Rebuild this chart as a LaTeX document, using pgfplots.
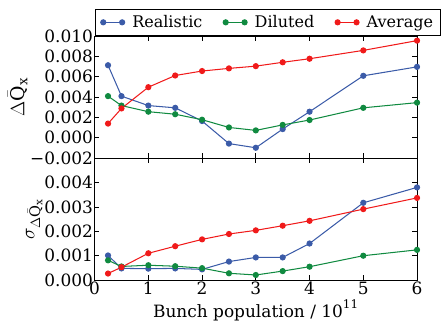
\documentclass[border=0pt]{standalone}
\usepackage{fontspec}
\setmainfont{DejaVu Serif}
\usepackage{pgfplots}
\pgfplotsset{compat=1.18}
\definecolor{cblue}{HTML}{3B5BA8}
\definecolor{cgreen}{HTML}{108A40}
\definecolor{cred}{HTML}{F01A1A}
\pgfplotstableread{
x     real     dil      avg
0.25  0.00714  0.00410  0.00140
0.5   0.00410  0.00317  0.00289
1     0.00317  0.00257  0.00498
1.5   0.00295  0.00232  0.00613
2     0.00165  0.00178  0.00657
2.5  -0.00057  0.00102  0.00683
3    -0.00098  0.00073  0.00705
3.5   0.00086  0.00127  0.00743
4     0.00257  0.00175  0.00778
5     0.00610  0.00295  0.00860
6     0.00698  0.00346  0.00956
}\topdata
\pgfplotstableread{
x     real     dil      avg
0.25  0.00101  0.00081  0.00027
0.5   0.00048  0.00056  0.00053
1     0.00047  0.00061  0.00110
1.5   0.00048  0.00057  0.00139
2     0.00044  0.00049  0.00167
2.5   0.00076  0.00028  0.00189
3     0.00093  0.00021  0.00204
3.5   0.00093  0.00037  0.00223
4     0.00150  0.00055  0.00243
5     0.00317  0.00100  0.00291
6     0.00380  0.00124  0.00337
}\botdata
\newcommand\mytf{\fontsize{18}{20}\selectfont}
\newcommand\mylf{\fontsize{17}{19}\selectfont}
\begin{document}
\begin{tikzpicture}
\pgfplotsset{
  every axis/.append style={
    scale only axis, width=341bp, height=129bp,
    xmin=0, xmax=6, xtick={0,1,...,6},
    tick align=inside, major tick length=5bp,
    tick style={black, line width=0.8pt},
    axis line style={line width=0.9pt},
    xticklabel style={inner sep=1.5bp},
    yticklabel style={inner sep=1.5bp},
    scaled y ticks=false,
  },
  dat/.style={line width=1.1pt, mark=*, mark size=2.7bp,
    mark options={draw=black!75, line width=0.5pt}},
}
\begin{axis}[name=top,
  ymin=-0.002, ymax=0.010,
  ytick={-0.002,0,0.002,0.004,0.006,0.008,0.010},
  yticklabels={\mytf −0.002,\mytf 0.000,\mytf 0.002,\mytf 0.004,\mytf 0.006,\mytf 0.008,\mytf 0.010},
  xticklabels={},
  ylabel={\fontsize{20}{22}\selectfont$\Delta\bar{\mathrm{Q}}_{\mathrm{x}}$},
  ylabel style={yshift=-2bp},
  legend columns=3,
  legend style={at={(0,1)}, anchor=south west, draw=black, line width=0.9pt,
    inner xsep=6bp, inner ysep=5bp,
    /tikz/every odd column/.append style={column sep=6bp},
    /tikz/every even column/.append style={column sep=20bp}},
  legend image code/.code={\draw[#1] plot coordinates {(0bp,0bp) (20bp,0bp)};},
]
\addplot[dat, color=cblue, mark options={fill=cblue}] table[x=x,y=real] {\topdata};
\addlegendentry{\mylf Realistic}
\addplot[dat, color=cgreen, mark options={fill=cgreen}] table[x=x,y=dil] {\topdata};
\addlegendentry{\mylf Diluted}
\addplot[dat, color=cred, mark options={fill=cred}] table[x=x,y=avg] {\topdata};
\addlegendentry{\mylf Average}
\end{axis}
\begin{axis}[at={(top.south west)}, anchor=north west,
  ymin=0, ymax=0.005,
  ytick={0,0.001,0.002,0.003,0.004},
  yticklabels={\mytf 0.000,\mytf 0.001,\mytf 0.002,\mytf 0.003,\mytf 0.004},
  xticklabels={\mytf 0,\mytf 1,\mytf 2,\mytf 3,\mytf 4,\mytf 5,\mytf 6},
  ylabel={\fontsize{22}{24}\selectfont$\sigma_{\Delta\bar{\mathrm{Q}}_{\mathrm{x}}}$},
  ylabel style={yshift=-3bp},
  xlabel={\fontsize{18}{20}\selectfont Bunch population / 10\textsuperscript{11}},
  xlabel style={yshift=0bp},
]
\addplot[dat, color=cblue, mark options={fill=cblue}] table[x=x,y=real] {\botdata};
\addplot[dat, color=cgreen, mark options={fill=cgreen}] table[x=x,y=dil] {\botdata};
\addplot[dat, color=cred, mark options={fill=cred}] table[x=x,y=avg] {\botdata};
\end{axis}
\path ([yshift=9bp]current bounding box.north) ([yshift=-3bp]current bounding box.south)
  ([xshift=-5bp]current bounding box.west);
\end{tikzpicture}
\end{document}
